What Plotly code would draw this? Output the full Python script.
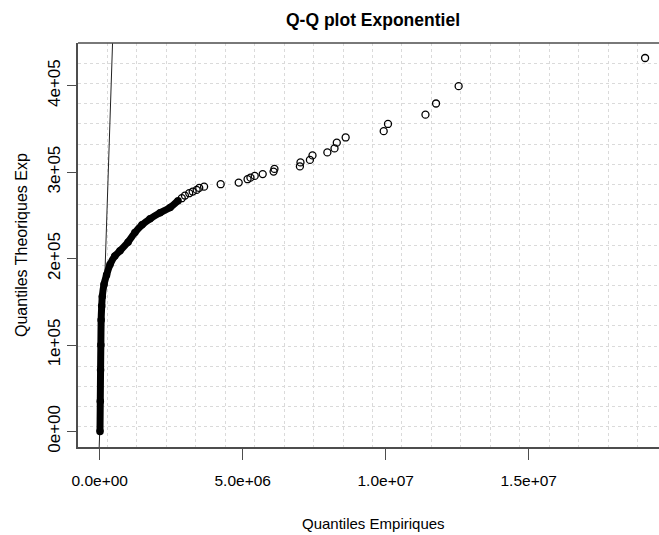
import plotly.graph_objects as go

# Dense core of the Q-Q cloud (empirical quantile, theoretical exponential quantile)
core_emp = [0.01e6, 0.02e6, 0.03e6, 0.04e6, 0.05e6, 0.07e6, 0.09e6, 0.15e6, 0.24e6,
            0.36e6, 0.53e6, 0.71e6, 0.99e6, 1.23e6, 1.48e6, 1.76e6, 2.11e6, 2.46e6, 2.74e6]
core_theo = [0, 35000, 71000, 100000, 129000, 145000, 156000, 170000, 181000,
             193000, 203000, 209000, 219000, 230000, 239000, 246000, 253000, 259000, 267000]

# Upper tail, individually visible points
tail_emp = [2.87e6, 2.98e6, 3.13e6, 3.25e6, 3.39e6, 3.48e6, 3.65e6, 4.23e6, 4.86e6,
            5.17e6, 5.27e6, 5.42e6, 5.70e6, 6.08e6, 6.11e6, 7.00e6, 7.02e6, 7.35e6,
            7.44e6, 7.96e6, 8.21e6, 8.29e6, 8.60e6, 9.93e6, 10.08e6, 11.39e6, 11.76e6,
            12.55e6, 19.07e6]
tail_theo = [269800, 272800, 275600, 277500, 279400, 281700, 283200, 286000, 287900,
             291800, 293600, 295600, 297700, 300600, 303700, 306600, 311200, 314100,
             319300, 322800, 327400, 334100, 340100, 347400, 355700, 366500, 379400,
             399400, 432000]

# Reference line y = x
ref_line = [-20000, 470000]

# Axis ticks
x_ticks = [0, 5e6, 1e7, 1.5e7]
x_ticktext = ["0.0e+00", "5.0e+06", "1.0e+07", "1.5e+07"]
y_ticks = [0, 1e5, 2e5, 3e5, 4e5]
y_ticktext = ["0e+00", "1e+05", "2e+05", "3e+05", "4e+05"]

x_range = [-0.759e6, 19.556e6]
y_range = [-18000, 449360]
x_grid_step = 1.0297e6
y_grid_step = 23368

font_family = "Liberation Sans, Arial, sans-serif"
axis_col = "#4d4d4d"
grid_col = "#dadada"

fig = go.Figure()

fig.add_trace(go.Scatter(
    x=ref_line, y=ref_line, mode="lines",
    line=dict(color="#222222", width=1), hoverinfo="skip", showlegend=False))

fig.add_trace(go.Scatter(
    x=core_emp, y=core_theo, mode="lines+markers",
    line=dict(color="black", width=7, shape="spline", smoothing=0.6),
    marker=dict(symbol="circle", size=7.5, color="black"),
    showlegend=False))

fig.add_trace(go.Scatter(
    x=tail_emp, y=tail_theo, mode="markers",
    marker=dict(symbol="circle-open", size=7, color="black", line=dict(width=1.3)),
    showlegend=False))

# Top border of the plotting box
fig.add_shape(type="line", xref="paper", yref="paper", x0=0, x1=1, y0=1, y1=1,
              line=dict(color=axis_col, width=1.5))

fig.update_layout(
    width=659, height=535,
    margin=dict(l=78, r=0, t=43, b=88),
    paper_bgcolor="white", plot_bgcolor="white",
    title=dict(text="<b>Q-Q plot Exponentiel</b>", x=(373 - 78) / 581, xref="paper",
               xanchor="center", y=1 - 20 / 535, yanchor="middle",
               font=dict(family=font_family, size=17.5, color="black")),
    xaxis=dict(
        range=x_range, tickvals=x_ticks, ticktext=x_ticktext,
        showgrid=False, zeroline=False,
        showline=True, linecolor=axis_col, linewidth=1.5,
        ticks="outside", ticklen=11, tickwidth=1.2, tickcolor=axis_col,
        ticklabelstandoff=8,
        tickfont=dict(family=font_family, size=15.5, color="black"),
        minor=dict(tick0=x_range[0], dtick=x_grid_step, showgrid=True,
                   gridcolor=grid_col, griddash="dot", gridwidth=1, ticks=""),
    ),
    yaxis=dict(
        range=y_range, tickvals=y_ticks, ticktext=y_ticktext,
        showgrid=False, zeroline=False,
        showline=True, linecolor=axis_col, linewidth=1.5,
        ticks="outside", ticklen=9, tickwidth=1.2, tickcolor=axis_col,
        tickangle=-90, ticklabelstandoff=0,
        tickfont=dict(family=font_family, size=17, color="black"),
        minor=dict(tick0=y_range[0], dtick=y_grid_step, showgrid=True,
                   gridcolor=grid_col, griddash="dot", gridwidth=1, ticks=""),
    ),
)

fig.add_annotation(text="Quantiles Empiriques", xref="paper", yref="paper",
                   x=(373 - 78) / 581, y=(447.3 - 524) / 404.3,
                   xanchor="center", yanchor="middle", showarrow=False,
                   font=dict(family=font_family, size=15, color="black"))
fig.add_annotation(text="Quantiles Theoriques Exp", xref="paper", yref="paper",
                   x=(21 - 78) / 581, y=0.5, textangle=-90,
                   xanchor="center", yanchor="middle", showarrow=False,
                   font=dict(family=font_family, size=16, color="black"))

fig.write_html("out.html")
